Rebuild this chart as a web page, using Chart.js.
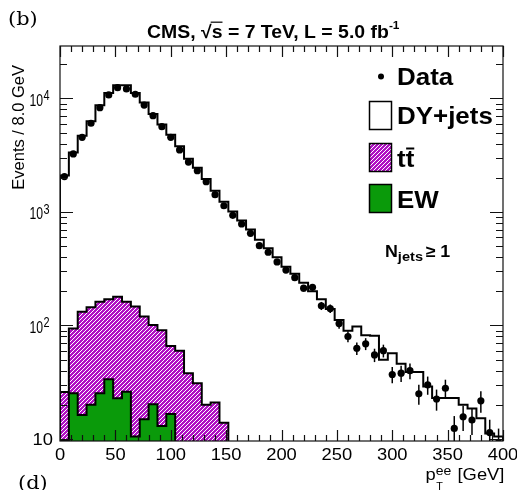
<!DOCTYPE html>
<html>
<head>
<meta charset="utf-8">
<script src="https://cdn.jsdelivr.net/npm/chart.js@4/dist/chart.umd.min.js"></script>
<style>
  html, body { margin: 0; padding: 0; background: #fff; }
  canvas { display: block; }
</style>
</head>
<body>
<canvas id="myChart" width="517" height="490" style="width:517px;height:490px"></canvas>
<script>
// pT(ee) spectrum, bins of 8 GeV from 0 to 400
var binWidth = 8;

var dataCounts = [
  2050, 3250, 4550, 6050, 8300, 10750, 12450, 12150, 10900, 8750,
  7050, 5650, 4550, 3520, 2750, 2310, 1850, 1420, 1135, 935,
  784, 649, 505, 442, 363, 308, 264, 213, 217, 149,
  141, 104, 80, 63, 69, 55, 60, 37, 38, 40,
  25, 30, 22.5, 28, 12.4, 15.7, 14.7, 21.7, 11.4, 9.3
];

// DY+jets stacked on top of ttbar and EW
var totalMC = [
  2100, 3350, 4700, 6300, 8700, 11200, 13100, 13100, 11200, 9200,
  7300, 5900, 4800, 3800, 2950, 2450, 1950, 1540, 1230, 1010,
  840, 700, 570, 480, 400, 330, 285, 238, 200, 170,
  140, 112, 90, 98, 82, 81, 50, 57, 46, 39,
  39, 29, 23, 23, 23, 20, 18.6, 15.2, 11.2, 10.5
];

// ttbar stacked on EW
var ttbarStack = [
  26, 94, 132, 145, 162, 170, 179, 162, 147, 120,
  101, 91, 66, 60, 38, 31, 20, 21, 13.9
];

var ewCounts = [
  0, 25.3, 16.3, 20, 25.3, 33.6, 22.9, 26.1, 10.5, 14.9,
  20.2, 13, 16.6
];

var xTicks = [0, 50, 100, 150, 200, 250, 300, 350, 400];
var yDecades = [1, 2, 3, 4];

var yMin = 9.6, yMax = 29000;
var FONT = '"Liberation Sans", Arial, sans-serif';
var SX = 1.08;

function steps(values) {
  var pts = [{x: 0, y: yMin}];
  values.forEach(function(v, i) {
    pts.push({x: i * binWidth, y: v > 0 ? v : yMin});
  });
  pts.push({x: values.length * binWidth, y: values[values.length - 1]});
  pts.push({x: values.length * binWidth, y: yMin});
  return pts;
}

function hatch() {
  var c = document.createElement('canvas');
  c.width = 4; c.height = 4;
  var g = c.getContext('2d');
  g.fillStyle = '#b010c4';
  g.fillRect(0, 0, 4, 4);
  g.strokeStyle = '#ffffff';
  g.lineWidth = 1;
  g.beginPath();
  g.moveTo(0, 4); g.lineTo(4, 0);
  g.moveTo(-1, 1); g.lineTo(1, -1);
  g.moveTo(3, 5); g.lineTo(5, 3);
  g.stroke();
  return g.createPattern(c, 'repeat');
}
var ttPattern = hatch();
var ewColor = '#0a9a0a';

function txt(ctx, s, x, y, font, align, sx) {
  ctx.save();
  ctx.font = font;
  ctx.textAlign = align || 'left';
  ctx.textBaseline = 'alphabetic';
  ctx.translate(x, y);
  ctx.scale(sx || 1, 1);
  ctx.fillText(s, 0, 0);
  var w = ctx.measureText(s).width * (sx || 1);
  ctx.restore();
  return w;
}

var rootStyle = {
  id: 'rootStyle',
  afterDatasetsDraw: function(chart) {
    var ctx = chart.ctx, xs = chart.scales.x, ys = chart.scales.y, a = chart.chartArea;
    ctx.save();
    ctx.beginPath();
    ctx.rect(a.left, a.top, a.right - a.left, a.bottom - a.top);
    ctx.clip();
    ctx.strokeStyle = '#000';
    ctx.lineWidth = 1.5;
    dataCounts.forEach(function(v, i) {
      var e = Math.sqrt(v);
      var px = xs.getPixelForValue((i + 0.5) * binWidth);
      ctx.beginPath();
      ctx.moveTo(px, ys.getPixelForValue(v + e));
      ctx.lineTo(px, ys.getPixelForValue(Math.max(v - e, 1)));
      ctx.stroke();
    });
    ctx.restore();
  },
  afterDraw: function(chart) {
    var ctx = chart.ctx, xs = chart.scales.x, ys = chart.scales.y, a = chart.chartArea;
    ctx.save();
    ctx.fillStyle = '#000';
    ctx.strokeStyle = '#111';
    ctx.lineWidth = 1.2;
    ctx.strokeRect(a.left, a.top, a.right - a.left, a.bottom - a.top);

    // x ticks (minor every 10, major every 50), bottom and top
    ctx.beginPath();
    for (var t = 0; t <= 400; t += 10) {
      var px = Math.round(xs.getPixelForValue(t)) + 0.5;
      var len = (t % 50 === 0) ? 11 : 6;
      ctx.moveTo(px, a.bottom); ctx.lineTo(px, a.bottom - len);
      ctx.moveTo(px, a.top); ctx.lineTo(px, a.top + len);
    }
    // y ticks, log
    for (var d = 0; d <= 4; d++) {
      for (var m = 1; m <= 9; m++) {
        var v = m * Math.pow(10, d);
        if (v < yMin || v > yMax) continue;
        var py = Math.round(ys.getPixelForValue(v)) + 0.5;
        var l = (m === 1) ? 13 : 7;
        ctx.moveTo(a.left, py); ctx.lineTo(a.left + l, py);
        ctx.moveTo(a.right, py); ctx.lineTo(a.right - l, py);
      }
    }
    ctx.stroke();

    // x tick labels
    xTicks.forEach(function(t) {
      txt(ctx, String(t), xs.getPixelForValue(t), 460, '17px ' + FONT, 'center', SX);
    });
    // y tick labels
    yDecades.forEach(function(d) {
      var py = ys.getPixelForValue(Math.pow(10, d));
      if (d === 1) {
        txt(ctx, '10', 53, py + 6, '17px ' + FONT, 'right', SX);
      } else {
        txt(ctx, '10', 43, py + 7.5, '17px ' + FONT, 'right', 0.72);
        txt(ctx, String(d), 43.5, py + 2, '14px ' + FONT, 'left', 0.78);
      }
    });

    // axis titles
    ctx.save();
    ctx.translate(24, 65);
    ctx.rotate(-Math.PI / 2);
    ctx.font = '16.5px ' + FONT;
    ctx.textAlign = 'right';
    ctx.textBaseline = 'alphabetic';
    ctx.fillText('Events / 8.0 GeV', 0, 0);
    ctx.restore();

    var x = 425.5;
    x += txt(ctx, 'p', x, 479.5, '17px ' + FONT, 'left', SX);
    txt(ctx, 'T', x + 0.5, 490, '10px ' + FONT, 'left', SX);
    x += txt(ctx, 'ee', x, 474.5, '13px ' + FONT, 'left', SX);
    txt(ctx, '[GeV]', 457.5, 480, '17px ' + FONT, 'left', SX);

    // title
    var tf = 'bold 18px ' + FONT, b = 37.7;
    x = 147;
    x += txt(ctx, 'CMS, ', x, b, tf, 'left', SX);
    x += txt(ctx, '\u221A', x, b, tf, 'left', SX);
    var ws = txt(ctx, 's', x, b, tf, 'left', SX);
    ctx.beginPath();
    ctx.lineWidth = 1.3;
    ctx.moveTo(x - 1, b - 15.5); ctx.lineTo(x + ws, b - 15.5);
    ctx.stroke();
    x += ws;
    x += txt(ctx, ' = 7 TeV, L = 5.0 fb', x, b, tf, 'left', SX);
    txt(ctx, '-1', x, b - 9, 'bold 11px ' + FONT, 'left', SX);

    // panel labels
    txt(ctx, '(b)', 8, 24.5, '19px "DejaVu Serif", serif', 'left', 1.1);
    txt(ctx, '(d)', 18, 489, '19px "DejaVu Serif", serif', 'left', 1.1);

    // legend
    var lf = 'bold 24px ' + FONT;
    ctx.beginPath();
    ctx.arc(381, 76.5, 3, 0, Math.PI * 2);
    ctx.fill();
    txt(ctx, 'Data', 397, 85, lf, 'left', SX);

    ctx.lineWidth = 1.5;
    ctx.strokeStyle = '#000';
    ctx.fillStyle = '#fff';
    ctx.fillRect(369.5, 101.5, 22, 28);
    ctx.strokeRect(369.5, 101.5, 22, 28);
    ctx.fillStyle = ttPattern;
    ctx.fillRect(369.5, 143.5, 22, 28);
    ctx.strokeRect(369.5, 143.5, 22, 28);
    ctx.fillStyle = ewColor;
    ctx.fillRect(369.5, 184.5, 22, 28);
    ctx.strokeRect(369.5, 184.5, 22, 28);

    ctx.fillStyle = '#000';
    txt(ctx, 'DY+jets', 397, 123.5, lf, 'left', SX);
    var wt = txt(ctx, 't', 397, 166.5, lf, 'left', SX);
    var wt2 = txt(ctx, 't', 397 + wt, 166.5, lf, 'left', SX);
    ctx.beginPath();
    ctx.lineWidth = 2;
    ctx.moveTo(397 + wt + 0.5, 148.5); ctx.lineTo(397 + wt + wt2, 148.5);
    ctx.stroke();
    txt(ctx, 'EW', 397, 207.5, lf, 'left', SX);

    // N_jets >= 1
    x = 385;
    x += txt(ctx, 'N', x, 256.7, 'bold 16.5px ' + FONT, 'left', SX);
    x += txt(ctx, 'jets', x, 261, 'bold 13.5px ' + FONT, 'left', SX);
    txt(ctx, '\u2265 1', x + 2.5, 256.7, 'bold 16.5px ' + FONT, 'left', SX);
    ctx.restore();
  }
};

var ctx = document.getElementById('myChart').getContext('2d');

var config = {
  type: 'line',
  data: {
    datasets: [{
      label: 'Data',
      data: dataCounts.map(function(v, i) { return {x: (i + 0.5) * binWidth, y: v}; }),
      showLine: false,
      pointRadius: 3.6,
      pointBackgroundColor: '#000',
      pointBorderColor: '#000',
      pointBorderWidth: 0,
      order: 0
    }, {
      label: 'EW',
      data: steps(ewCounts),
      stepped: true,
      borderColor: '#000',
      borderWidth: 2,
      backgroundColor: ewColor,
      fill: 'start',
      pointRadius: 0,
      order: 1
    }, {
      label: 'ttbar',
      data: steps(ttbarStack),
      stepped: true,
      borderColor: '#000',
      borderWidth: 2,
      backgroundColor: ttPattern,
      fill: 'start',
      pointRadius: 0,
      order: 2
    }, {
      label: 'DY+jets',
      data: steps(totalMC),
      stepped: true,
      borderColor: '#000',
      borderWidth: 2,
      backgroundColor: '#fff',
      fill: 'start',
      pointRadius: 0,
      order: 3
    }]
  },
  options: {
    responsive: false,
    animation: false,
    devicePixelRatio: 1,
    layout: { padding: { left: 60, right: 14, top: 46, bottom: 49 } },
    plugins: { legend: { display: false }, tooltip: { enabled: false } },
    scales: {
      x: { type: 'linear', min: 0, max: 400, display: false },
      y: { type: 'logarithmic', min: yMin, max: yMax, display: false }
    }
  },
  plugins: [rootStyle]
};

var chart = new Chart(ctx, config);
</script>
</body>
</html>
